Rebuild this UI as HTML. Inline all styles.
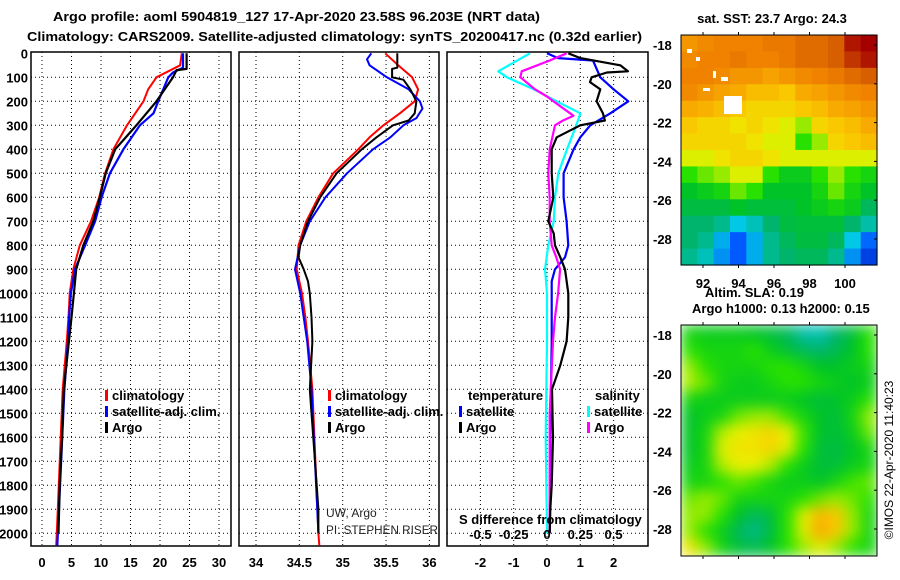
<!DOCTYPE html>
<html><head><meta charset="utf-8">
<style>
html,body{margin:0;padding:0;background:#fff;}
svg{display:block;font-family:"Liberation Sans",sans-serif;}
.b{font-weight:bold;font-size:13px;}
</style></head>
<body>
<svg id="chart" width="900" height="580" viewBox="0 0 900 580" xmlns="http://www.w3.org/2000/svg">
<defs>
<filter id="blur" x="0" y="0" width="1" height="1" color-interpolation-filters="sRGB"><feGaussianBlur stdDeviation="7" edgeMode="duplicate"/></filter>
<clipPath id="clipSLA"><rect x="681" y="325" width="196" height="231"/></clipPath>
</defs>
<text class="b" x="53" y="21" font-size="14" textLength="487" lengthAdjust="spacingAndGlyphs">Argo profile: aoml 5904819_127 17-Apr-2020 23.58S 96.203E (NRT data)</text>
<text class="b" x="27" y="41" font-size="14" textLength="615" lengthAdjust="spacingAndGlyphs">Climatology: CARS2009. Satellite-adjusted climatology: synTS_20200417.nc (0.32d earlier)</text>
<g id="plots"></g>
</svg>
<script>
// ---- data ----
const depthLevels=[0,100,200,300,400,500,600,700,800,900,1000,1100,1200,1300,1400,1500,1600,1700,1800,1900,2000];
const tempTicks=[0,5,10,15,20,25,30];
const salTicks=[34,34.5,35,35.5,36];
const diffTTicks=[-2,-1,0,1,2];
const diffSTicks=[-0.5,-0.25,0,0.25,0.5];
const diffSLabels=["-0.5","-0.25","0","0.25","0.5"];
const latTicks=[-18,-20,-22,-24,-26,-28];
const lonTicks=[92,94,96,98,100];

const tArgoD=[0,65,70,100,200,300,400,500,600,700,800,900,1000,1100,1400,1600,1800,2000];
const tArgoV=[24.5,24.5,22.8,22.2,19.4,16.0,12.4,10.8,9.8,8.7,7.0,5.8,5.4,5.0,3.7,3.4,3.0,2.8];
const tClimD=[0,50,100,150,200,300,400,500,600,700,800,900,1000,1100,1200,1400,2000,2050];
const tClimV=[23.7,23.4,19.4,18.0,17.2,14.4,12.1,10.7,9.7,8.3,6.4,5.3,4.7,4.5,4.2,3.5,2.5,2.4];
const tSatD=[0,60,80,100,200,250,300,400,500,600,700,800,900,1000,1100,1200,1400,2000,2050];
const tSatV=[23.9,23.9,22.2,21.4,19.7,18.9,16.6,13.8,11.5,10.1,9.0,7.3,5.6,4.9,4.6,4.4,3.8,2.7,2.6];

const sArgoD=[0,60,65,100,110,150,200,250,280,300,350,400,500,600,700,800,850,900,950,1000,1100,1200,1400,1500,1700,1900,2000];
const sArgoV=[35.63,35.63,35.57,35.57,35.70,35.78,35.85,35.83,35.76,35.58,35.39,35.22,34.93,34.74,34.60,34.51,34.49,34.55,34.60,34.62,34.64,34.65,34.62,34.64,34.68,34.72,34.72];
const sClimD=[0,50,100,150,200,250,300,350,400,500,600,700,800,900,1000,1100,1200,1400,2000,2050];
const sClimV=[35.49,35.64,35.80,35.87,35.83,35.66,35.47,35.31,35.18,34.89,34.72,34.58,34.49,34.47,34.53,34.57,34.60,34.65,34.72,34.73];
const sSatD=[0,25,50,100,150,200,230,270,300,350,400,500,600,700,800,900,1000,1100,1200,1400,2000];
const sSatV=[35.33,35.28,35.31,35.51,35.76,35.89,35.92,35.85,35.70,35.55,35.35,35.05,34.80,34.62,34.51,34.45,34.51,34.55,34.59,34.64,34.72];

const dtArgoD=[0,20,50,75,80,100,120,150,200,250,280,300,350,400,500,600,700,750,800,850,900,1000,1100,1200,1300,1400,1600,1800,1900,2000];
const dtArgoV=[0.64,1.0,2.2,2.43,1.8,1.34,1.29,1.6,1.49,1.68,1.74,1.0,0.29,0.14,0.14,0.19,0.04,0.2,0.24,0.4,0.54,0.64,0.64,0.59,0.4,0.15,0.18,0.14,0.1,0.08];
const dtSatD=[0,20,30,100,150,200,250,300,350,400,500,600,700,800,850,900,950,1000,1200,1600,2000];
const dtSatV=[0,0.33,1.38,1.6,2.0,2.44,1.9,1.3,1.0,0.8,0.5,0.5,0.59,0.64,0.54,0.24,0.14,0.14,0.14,0.1,0.08];
const dsSatD=[0,75,100,150,200,250,300,400,500,600,700,800,900,1000,1200,1600,2000];
const dsSatV=[-0.128,-0.366,-0.30,-0.10,0.073,0.25,0.22,0.15,0.085,0.06,0.05,0.01,-0.015,0,0,-0.01,0];
const dsArgoD=[0,30,75,100,150,180,200,260,280,300,400,500,600,700,800,850,900,1000,1100,1200,1500,2000];
const dsArgoV=[0.148,0.02,-0.19,-0.20,-0.09,0,0.048,0.198,0.12,0.06,0.02,0.01,0.02,0.02,0.035,0.07,0.098,0.083,0.06,0.045,0.02,0.02];

const sstGrid=[
[0.75,0.78,0.8,0.8,0.8,0.82,0.82,0.85,0.85,0.88,0.95,0.97],
[0.78,0.8,0.8,0.82,0.8,0.8,0.82,0.85,0.85,0.88,0.92,0.95],
[0.8,0.8,0.78,0.75,0.75,0.72,0.75,0.78,0.8,0.82,0.85,0.88],
[0.78,0.75,0.72,0.7,0.65,0.65,0.62,0.7,0.72,0.75,0.78,0.8],
[0.7,0.68,0.65,0.62,0.6,0.6,0.6,0.62,0.65,0.7,0.72,0.75],
[0.62,0.6,0.6,0.58,0.6,0.58,0.55,0.5,0.6,0.62,0.65,0.7],
[0.6,0.6,0.6,0.6,0.58,0.55,0.55,0.45,0.5,0.6,0.62,0.65],
[0.55,0.55,0.58,0.6,0.6,0.58,0.55,0.55,0.55,0.55,0.55,0.55],
[0.45,0.48,0.5,0.55,0.55,0.45,0.4,0.4,0.45,0.5,0.45,0.42],
[0.38,0.4,0.42,0.48,0.45,0.38,0.38,0.38,0.42,0.48,0.42,0.38],
[0.35,0.35,0.35,0.38,0.36,0.36,0.36,0.38,0.4,0.42,0.4,0.32],
[0.3,0.3,0.28,0.22,0.25,0.3,0.35,0.36,0.36,0.36,0.3,0.26],
[0.3,0.28,0.2,0.14,0.2,0.28,0.32,0.35,0.35,0.32,0.22,0.15],
[0.28,0.25,0.18,0.14,0.2,0.28,0.3,0.32,0.32,0.28,0.18,0.12]];
const slaGrid=[
[0.42,0.4,0.4,0.4,0.38,0.36,0.32,0.26,0.25,0.3,0.36,0.45],
[0.45,0.42,0.42,0.42,0.45,0.4,0.36,0.32,0.3,0.33,0.38,0.45],
[0.5,0.45,0.42,0.42,0.42,0.45,0.45,0.42,0.38,0.38,0.4,0.42],
[0.52,0.48,0.42,0.4,0.4,0.42,0.45,0.45,0.42,0.4,0.38,0.4],
[0.42,0.4,0.4,0.4,0.4,0.4,0.4,0.38,0.36,0.38,0.4,0.45],
[0.38,0.4,0.42,0.48,0.5,0.5,0.46,0.42,0.38,0.36,0.42,0.5],
[0.38,0.42,0.52,0.56,0.58,0.6,0.56,0.46,0.38,0.36,0.4,0.48],
[0.38,0.42,0.55,0.58,0.58,0.6,0.55,0.45,0.36,0.35,0.38,0.42],
[0.4,0.42,0.52,0.56,0.56,0.52,0.45,0.4,0.36,0.36,0.4,0.42],
[0.42,0.42,0.45,0.48,0.46,0.42,0.4,0.4,0.38,0.42,0.46,0.48],
[0.48,0.5,0.48,0.42,0.42,0.42,0.42,0.45,0.48,0.5,0.48,0.45],
[0.5,0.5,0.45,0.38,0.32,0.36,0.45,0.55,0.66,0.62,0.5,0.42],
[0.5,0.45,0.4,0.32,0.28,0.35,0.45,0.55,0.7,0.62,0.5,0.42],
[0.58,0.5,0.42,0.36,0.34,0.38,0.45,0.5,0.55,0.5,0.45,0.42]];

// ---- scales ----
const NS="http://www.w3.org/2000/svg";
const root=document.getElementById('plots');
const yD=d=>53.3+d*0.24;
const xT=t=>42+t*5.9;
const xS=s=>256+(s-34)*86.7;
const xDT=v=>547+v*33.3;
const xDS=v=>547+v*133.2;
const TOP=52,BOT=546;
function el(tag,attrs,parent){const e=document.createElementNS(NS,tag);for(const k in attrs)e.setAttribute(k,attrs[k]);(parent||root).appendChild(e);return e;}
function txt(s,attrs,parent){const e=el('text',attrs,parent);e.textContent=s;return e;}

const panels=[
 {name:'temperature',x0:31,x1:231,grid:tempTicks.map(xT),labels:tempTicks.map(String),lx:tempTicks.map(xT)},
 {name:'salinity',x0:239,x1:439,grid:salTicks.map(xS),labels:salTicks.map(String),lx:salTicks.map(xS)},
 {name:'difference',x0:447,x1:648,grid:diffTTicks.map(xDT),labels:diffTTicks.map(String),lx:diffTTicks.map(xDT)}
];
panels.forEach((p,pi)=>{
  const g=el('g',{});
  
  
  depthLevels.forEach(d=>{if(d>0){const l=el('line',{x1:p.x0,x2:p.x1,y1:yD(d),y2:yD(d),stroke:'#000','stroke-width':1,'stroke-dasharray':'1 3'},g);
    }});
  p.grid.forEach(x=>{const l=el('line',{x1:x,x2:x,y1:TOP,y2:BOT,stroke:'#000','stroke-width':1,'stroke-dasharray':'1 3'},g);
    });
  const r=el('rect',{x:p.x0,y:TOP,width:p.x1-p.x0,height:BOT-TOP,fill:'none',stroke:'#000','stroke-width':1.5},g);
  
  p.labels.forEach((s,i)=>{const t=txt(s,{x:p.lx[i],y:567,'text-anchor':'middle',class:'b'},g);
    });
});
depthLevels.forEach(d=>{const t=txt(String(d),{x:28,y:yD(d)+5,'text-anchor':'end',class:'b'});
  });

function line(D,V,sx,color,w,name){
  const pts=D.map((d,i)=>sx(V[i]).toFixed(1)+','+yD(d).toFixed(1)).join(' ');
  const l=el('polyline',{points:pts,fill:'none',stroke:color,'stroke-width':w,'stroke-linejoin':'round'});
  
}
line(tClimD,tClimV,xT,'#f00',2,'temp-climatology-line');
line(tSatD,tSatV,xT,'#00f',2.2,'temp-satellite-line');
line(tArgoD,tArgoV,xT,'#000',2.2,'temp-argo-line');
line(sClimD,sClimV,xS,'#f00',2,'sal-climatology-line');
line(sSatD,sSatV,xS,'#00f',2,'sal-satellite-line');
line(sArgoD,sArgoV,xS,'#000',2,'sal-argo-line');
line(dsSatD,dsSatV,xDS,'#0ff',2.2,'sdiff-satellite-line');
line(dtSatD,dtSatV,xDT,'#00f',2.2,'tdiff-satellite-line');
line(dsArgoD,dsArgoV,xDS,'#f0f',2.2,'sdiff-argo-line');
line(dtArgoD,dtArgoV,xDT,'#000',2.2,'tdiff-argo-line');

// legends
function legend(x,y,color,label,name){
  const g=el('g',{});
  
  el('rect',{x:x,y:y-10,width:3,height:11,fill:color},g);
  txt(label,{x:x+7,y:y,class:'b','font-size':12},g);
}
legend(105,400,'#f00','climatology','legend-climatology');
legend(105,416,'#00f','satellite-adj. clim.','legend-satellite-adj');
legend(105,432,'#000','Argo','legend-argo');
legend(328,400,'#f00','climatology','legend-sal-climatology');
legend(328,416,'#00f','satellite-adj. clim.','legend-sal-satellite-adj');
legend(328,432,'#000','Argo','legend-sal-argo');
let t=txt('temperature',{x:468,y:400,class:'b','font-size':12});
t=txt('salinity',{x:595,y:400,class:'b','font-size':12});
legend(459,416,'#00f','satellite','legend-t-satellite');
legend(459,432,'#000','Argo','legend-t-argo');
legend(587,416,'#0ff','satellite','legend-s-satellite');
legend(587,432,'#f0f','Argo','legend-s-argo');
t=txt('S difference from climatology',{x:459,y:524,class:'b','font-size':12});
diffSTicks.forEach((v,i)=>{const e=txt(diffSLabels[i],{x:xDS(v),y:539,'text-anchor':'middle',class:'b','font-size':12});
  });
t=txt('UW, Argo',{x:326,y:517,'font-size':12,fill:'#222'});
t=txt('PI: STEPHEN RISER',{x:326,y:534,'font-size':12,fill:'#222',textLength:112,lengthAdjust:'spacingAndGlyphs'});

// colormap
const cmap=[[0.1,[0,40,200]],[0.14,[0,90,255]],[0.22,[0,200,230]],[0.3,[0,180,110]],[0.38,[0,195,40]],[0.45,[40,225,0]],[0.5,[150,235,0]],[0.56,[235,240,0]],[0.62,[250,200,0]],[0.7,[248,170,0]],[0.8,[240,130,0]],[0.88,[215,95,0]],[0.97,[165,0,0]]];
function color(v){
  if(v<=cmap[0][0])return 'rgb('+cmap[0][1]+')';
  for(let i=1;i<cmap.length;i++){if(v<=cmap[i][0]){const a=cmap[i-1],b=cmap[i],f=(v-a[0])/(b[0]-a[0]);
    return 'rgb('+a[1].map((c,k)=>Math.round(c+(b[1][k]-c)*f)).join(',')+')';}}
  return 'rgb('+cmap[cmap.length-1][1]+')';
}
function map(grid,x0,y0,w,h,name,blur){
  const g=el('g',{});
  
  const inner=blur?el('g',{'clip-path':'url(#clipSLA)'},g):g;
  const ig=blur?el('g',{filter:'url(#blur)'},inner):inner;
  const rows=grid.length,cols=grid[0].length,cw=w/cols,ch=h/rows;
  grid.forEach((row,r)=>row.forEach((v,c)=>{
    const cell=el('rect',{x:(x0+c*cw).toFixed(2),y:(y0+r*ch).toFixed(2),width:(cw+0.6).toFixed(2),height:(ch+0.6).toFixed(2),fill:color(v)},ig);
    
  }));
  el('rect',{x:x0,y:y0,width:w,height:h,fill:'none',stroke:'#000','stroke-width':1},g);
  const yL=lat=>y0+10+(-18-lat)*19.4;
  latTicks.forEach(lat=>{el('line',{x1:x0+w,x2:x0+w-3,y1:yL(lat),y2:yL(lat),stroke:'#000'},g);
    const e=txt(String(lat),{x:653,y:yL(lat)+5,class:'b','font-size':13},g);
    });
  lonTicks.forEach(lon=>{const x=703+(lon-92)*17.75;el('line',{x1:x,x2:x,y1:y0+h,y2:y0+h+3,stroke:'#000'},g);el('line',{x1:x,x2:x,y1:y0-3,y2:y0,stroke:'#000'},g);});
  return g;
}
// SST map
map(sstGrid,681,35,196,230,'sst-map',false);
// white missing patches
[[687,49,5,4],[696,57,4,4],[713,71,3,7],[721,77,7,4],[703,88,7,3],[724,96,18,18]].forEach(r=>el('rect',{x:r[0],y:r[1],width:r[2],height:r[3],fill:'#fff'}));
lonTicks.forEach(lon=>{const e=txt(String(lon),{x:703+(lon-92)*17.75,y:288,'text-anchor':'middle',class:'b'});
  });
t=txt('sat. SST: 23.7 Argo: 24.3',{x:772,y:23,'text-anchor':'middle',class:'b','font-size':12});
// SLA map
map(slaGrid,681,325,196,231,'sla-map',true);
t=txt('Altim. SLA: 0.19',{x:705,y:297,class:'b','font-size':12});
t=txt('Argo h1000: 0.13 h2000: 0.15',{x:692,y:313,class:'b','font-size':12});
t=txt('©IMOS 22-Apr-2020 11:40:23',{x:0,y:0,'font-size':12,transform:'translate(893,460) rotate(-90)','text-anchor':'middle'});
</script>
</body></html>
